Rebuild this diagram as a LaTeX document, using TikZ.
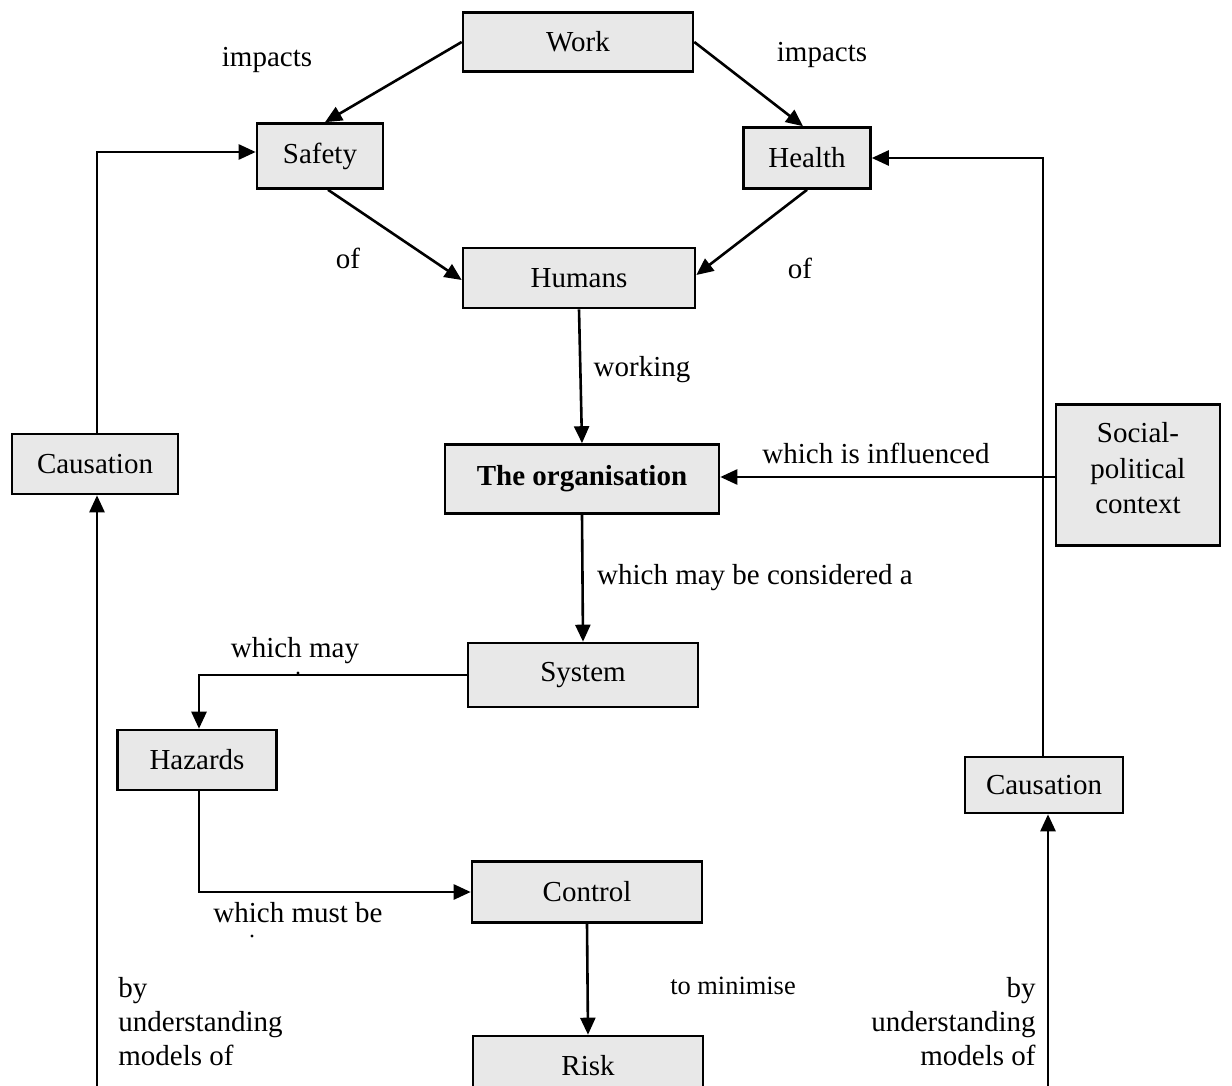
\documentclass[tikz,border=0pt]{standalone}
\usepackage{fontspec}
\setmainfont{Liberation Serif}
\usetikzlibrary{arrows.meta}
\tikzset{
  box/.style={draw, fill=gray!18, line width=1.3pt, inner sep=0pt, align=center},
  arr/.style={line width=1.3pt, -{Triangle[length=8.5pt,width=7.5pt]}},
  lbl/.style={inner sep=0pt}
}
\begin{document}
\begin{tikzpicture}[x=0.5pt, y=-0.5pt, font=\fontsize{14.5}{17}\selectfont]

\clip (0,0) rectangle (1232,1086);

% caselle
  \node[box, minimum width=115pt, minimum height=29.5pt] (work) at (578,42) {Work};
  \node[box, minimum width=63pt, minimum height=32.5pt] (safety) at (320,156) {Safety};
  \node[box, minimum width=63.5pt, minimum height=30.5pt] (health) at (807,158) {Health};
  \node[box, minimum width=116pt, minimum height=30pt] (humans) at (579,278) {Humans};
  \node[box, minimum width=137pt, minimum height=34.5pt] (org) at (582,479) {\textbf{The organisation}};
  \node[box, minimum width=82pt, minimum height=70.5pt, font=\fontsize{14.5}{17.7}\selectfont] (social) at (1138,475) {Social-\\political\\context\rule[-7pt]{0pt}{7pt}};
  \node[box, minimum width=83pt, minimum height=30pt] (causl) at (95,464) {Causation};
  \node[box, minimum width=115pt, minimum height=32pt] (sys) at (583,675) {System};
  \node[box, minimum width=79.5pt, minimum height=30pt] (haz) at (197,760) {Hazards};
  \node[box, minimum width=115pt, minimum height=30.5pt] (ctrl) at (587,892) {Control};
  \node[box, minimum width=115pt, minimum height=30pt] (risk) at (588,1066) {Risk};
  \node[box, minimum width=79pt, minimum height=28pt] (causr) at (1044,785) {Causation};
  \coordinate (bl) at (97,1086);
  \coordinate (br) at (1048,1086);

% frecce
  \draw[arr] (work.west) -- ([xshift=2.5pt]safety.north);
  \draw[arr] (work.east) -- ([xshift=-2pt]health.north);
  \draw[arr] ([xshift=4pt]safety.south) -- ([yshift=-1pt]humans.west);
  \draw[arr] (health.south) -- ([yshift=1.5pt]humans.east);
  \draw[arr] (humans.south) -- (org.north);
  \draw[arr] ([yshift=-1pt]social.west) -- ([yshift=-1pt]social.west -| org.east);
  \draw[arr] (org.south) -- (sys.north);
  \draw[arr] (sys.west) -| ([xshift=1pt]haz.north);
  \draw[arr] ([xshift=1pt]haz.south) |- (ctrl.west);
  \draw[arr] (ctrl.south) -- (risk.north);
  \draw[arr] (bl) -- (bl |- causl.south);
  \draw[arr] ([xshift=1pt]causl.north) |- ([yshift=2pt]safety.west);
  \draw[arr] (br) -- (br |- causr.south);
  \draw[arr] ([xshift=-0.5pt]causr.north) |- (health.east);

% etichette
  \node[lbl] (imp1) at (267,60) {impacts};
  \node[lbl] (imp2) at (822,55) {impacts};
  \node[lbl] (of1) at (348,258) {of};
  \node[lbl] (of2) at (800,268) {of};
  \node[lbl] (wrk) at (642,370) {working};
  \node[lbl] (infl) at (876,453) {which is influenced};
  \node[lbl] (cons) at (755,578) {which may be considered a};
  \node[lbl] (may) at (295,651) {which may};
  \node[lbl] (must) at (298,913) {which must be};
  \node[lbl, font=\fontsize{13.2}{16}\selectfont] (mini) at (733,986) {to minimise};
  \node[lbl, anchor=west, align=left] (byl) at (118,1022) {by\\understanding\\models of};
  \node[lbl, anchor=east, align=right] (byr) at (1036,1022) {by\\understanding\\models of};
  \fill (298,673) circle (0.8pt);
  \fill (252,936) circle (0.8pt);

\end{tikzpicture}
\end{document}
